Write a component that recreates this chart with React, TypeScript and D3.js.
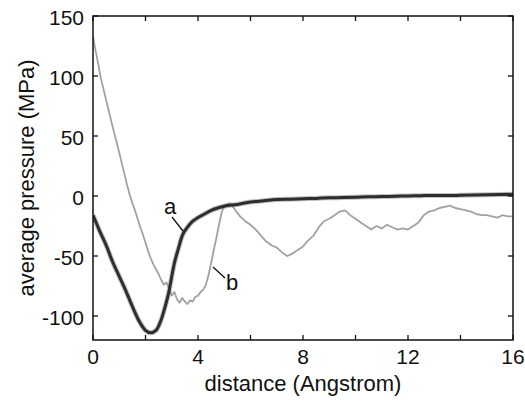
import React from "react";
import * as d3 from "d3";

const xTicks = [0, 2, 4, 6, 8, 10, 12, 14, 16];
const xLabels = [0, 4, 8, 12, 16];
const yTicks = [-100, -50, 0, 50, 100, 150];

const aX = [0, 0.25, 0.5, 0.75, 1.0, 1.25, 1.5, 1.75, 2.0, 2.2, 2.4, 2.6, 2.75, 2.9, 3.0, 3.1, 3.25, 3.4, 3.6, 3.8, 4.0, 4.25, 4.5, 4.75, 5.0, 5.5, 6.0, 6.5, 7, 7.5, 8, 8.5, 9, 9.5, 10, 10.5, 11, 11.5, 12, 12.5, 13, 13.5, 14, 14.5, 15, 15.5, 16];
const aY = [-16, -29, -41, -55, -67, -79, -92, -104, -112, -114, -112, -103, -92, -79, -67, -56, -44, -33, -26, -21, -18, -15, -12, -10, -8.5, -7, -5, -4, -3, -2.7, -2.3, -2, -1.5, -1.3, -1, -0.6, -0.5, -0.2, 0, 0.3, 0.5, 0.4, 0.6, 0.8, 1, 1.2, 1.4];

const bX = [0, 0.1, 0.2, 0.3, 0.4, 0.5, 0.6, 0.7, 0.8, 0.9, 1.0, 1.1, 1.2, 1.3, 1.4, 1.5, 1.6, 1.7, 1.8, 1.9, 2.0, 2.1, 2.2, 2.3, 2.4, 2.5, 2.6, 2.7, 2.8, 2.9, 3.0, 3.1, 3.2, 3.3, 3.4, 3.5, 3.6, 3.7, 3.8, 3.9, 4.0, 4.1, 4.2, 4.3, 4.4, 4.5, 4.6, 4.7, 4.8, 4.9, 5.0, 5.1, 5.2, 5.3, 5.4, 5.6, 5.8, 6.0, 6.2, 6.4, 6.6, 6.8, 7.0, 7.2, 7.4, 7.6, 7.8, 8.0, 8.2, 8.4, 8.6, 8.8, 9.0, 9.2, 9.4, 9.6, 9.8, 10.0, 10.2, 10.4, 10.6, 10.8, 11.0, 11.2, 11.4, 11.6, 11.8, 12.0, 12.2, 12.4, 12.6, 12.8, 13.0, 13.2, 13.4, 13.6, 13.8, 14.0, 14.2, 14.4, 14.6, 14.8, 15.0, 15.2, 15.4, 15.6, 15.8, 16.0];
const bY = [133, 121, 110, 98, 89, 80, 71, 62, 53, 45, 36, 27, 18, 9, 1, -6, -12, -19, -26, -32, -39, -46, -52, -57, -61, -65, -70, -74, -72, -77, -83, -80, -86, -89, -85, -88, -90, -87, -88, -84, -83, -80, -78, -74, -66, -56, -45, -35, -24, -14, -8, -7, -6, -8, -11, -17, -21, -24, -28, -33, -38, -41, -43, -47, -50, -48, -45, -42, -37, -33, -26, -21, -19, -16, -13, -12, -16, -19, -22, -25, -28, -25, -27, -24, -26, -28, -27, -28, -25, -22, -16, -13, -12, -10, -9, -8, -10, -11, -12, -13, -15, -16, -16, -17, -18, -16, -17, -17];

const W = 525;
const H = 404;
const left = 93, right = 513, top = 16, bottom = 340;

export default function App() {
  const x = d3.scaleLinear().domain([0, 16]).range([left, right]);
  const y = d3.scaleLinear().domain([-120, 150]).range([bottom, top]);
  const lineA = d3
    .line<[number, number]>()
    .x((d) => x(d[0]))
    .y((d) => y(d[1]))
    .curve(d3.curveMonotoneX);
  const lineB = d3
    .line<[number, number]>()
    .x((d) => x(d[0]))
    .y((d) => y(d[1]))
    .curve(d3.curveLinear);
  const aPts = aX.map((v, i) => [v, aY[i]] as [number, number]);
  const bPts = bX.map((v, i) => [v, bY[i]] as [number, number]);
  const font = "'Liberation Sans', Arial, Helvetica, sans-serif";
  const tl = 5;

  return (
    <svg
      width={W}
      height={H}
      style={{ position: "absolute", left: 0, top: 0, background: "#fff" }}
      fontFamily={font}
    >
      <rect x={0} y={0} width={W} height={H} fill="#fff" />
      <defs>
        <clipPath id="plot">
          <rect x={left} y={top} width={right - left} height={bottom - top} />
        </clipPath>
      </defs>
      <g clipPath="url(#plot)">
        <path d={lineB(bPts) || ""} fill="none" stroke="#a2a2a2" strokeWidth={1.8} strokeLinejoin="round" />
        <path d={lineA(aPts) || ""} fill="none" stroke="#777" strokeWidth={5} strokeOpacity={0.45} strokeLinejoin="round" />
        <path d={lineA(aPts) || ""} fill="none" stroke="#2e2e2e" strokeWidth={3} strokeLinejoin="round" />
      </g>
      <rect x={left} y={top} width={right - left} height={bottom - top} fill="none" stroke="#111" strokeWidth={1.5} />
      {xTicks.map((t) => (
        <g key={"xt" + t}>
          <line x1={x(t)} x2={x(t)} y1={bottom} y2={bottom - tl} stroke="#111" strokeWidth={1.3} />
          <line x1={x(t)} x2={x(t)} y1={top} y2={top + tl} stroke="#111" strokeWidth={1.3} />
        </g>
      ))}
      {yTicks.map((t) => (
        <g key={"yt" + t}>
          <line x1={left} x2={left + tl} y1={y(t)} y2={y(t)} stroke="#111" strokeWidth={1.3} />
          <line x1={right} x2={right - tl} y1={y(t)} y2={y(t)} stroke="#111" strokeWidth={1.3} />
        </g>
      ))}
      {xLabels.map((t) => (
        <text key={"xl" + t} x={x(t)} y={364} fontSize={21} textAnchor="middle" fill="#111">
          {t}
        </text>
      ))}
      {yTicks.map((t) => (
        <text key={"yl" + t} x={84} y={y(t) + 9} fontSize={21} textAnchor="end" fill="#111">
          {t}
        </text>
      ))}
      <text x={(left + right) / 2} y={391} fontSize={22} textAnchor="middle" fill="#111">
        distance (Angstrom)
      </text>
      <text
        transform={`translate(34, ${(top + bottom) / 2}) rotate(-90)`}
        fontSize={22}
        textAnchor="middle"
        fill="#111"
      >
        average pressure (MPa)
      </text>
      <text x={170} y={214} fontSize={22} textAnchor="middle" fill="#111">a</text>
      <line x1={172} y1={217} x2={183} y2={231} stroke="#111" strokeWidth={1.3} />
      <text x={232} y={290} fontSize={22} textAnchor="middle" fill="#111">b</text>
      <line x1={213} y1={267} x2={225} y2={278} stroke="#111" strokeWidth={1.3} />
    </svg>
  );
}
